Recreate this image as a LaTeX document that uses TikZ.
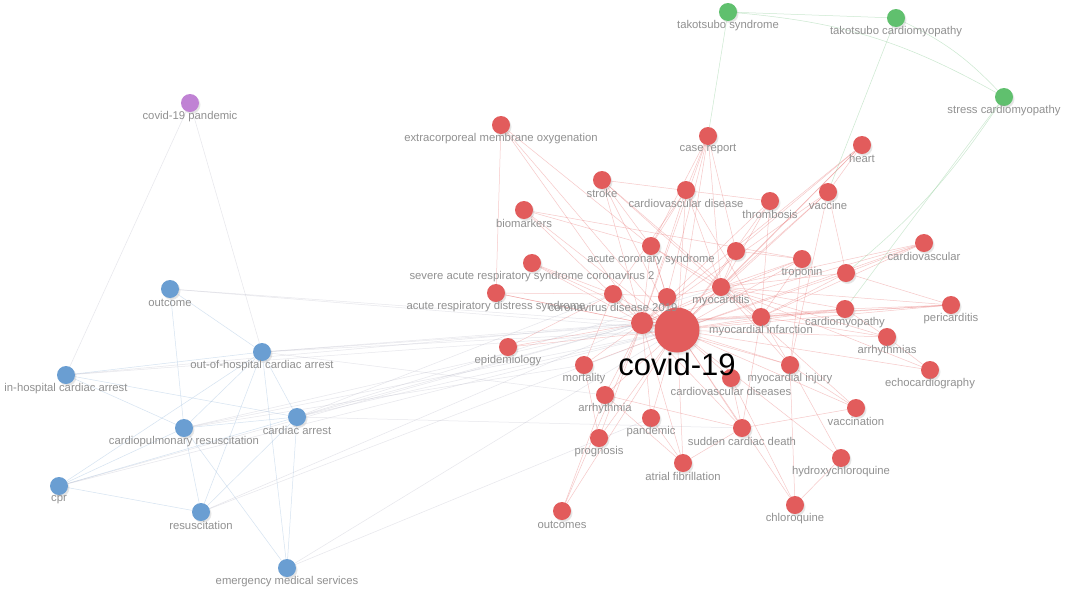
\documentclass[tikz,border=0pt]{standalone}
\usepackage{fontspec}
\setmainfont{Liberation Sans}
\usetikzlibrary{backgrounds,shadows}
\definecolor{nred}{RGB}{226,92,92}
\definecolor{nblue}{RGB}{106,158,210}
\definecolor{ngreen}{RGB}{96,192,110}
\definecolor{npurple}{RGB}{192,130,212}
\definecolor{lblgray}{RGB}{145,145,145}
\definecolor{ered}{RGB}{232,110,110}
\definecolor{eblue}{RGB}{150,185,220}
\definecolor{egreen}{RGB}{140,205,150}
\definecolor{emix}{RGB}{185,185,200}
\tikzset{
 kwnode/.style={circle,minimum size=18pt,inner sep=0pt,
   circular drop shadow={shadow xshift=1.2pt,shadow yshift=-1.6pt,opacity=0.22,shadow scale=1.05}},
 rn/.style={kwnode,fill=nred},
 bn/.style={kwnode,fill=nblue},
 gn/.style={kwnode,fill=ngreen},
 pn/.style={kwnode,fill=npurple},
 lbl/.style={text=lblgray,font=\fontsize{11.3}{13}\selectfont,inner sep=0pt},
 bigl/.style={text=black,font=\fontsize{31}{34}\selectfont,inner sep=0pt},
 redge/.style={draw=ered,line width=0.5pt,opacity=0.38},
 bedge/.style={draw=eblue,line width=0.5pt,opacity=0.4},
 gedge/.style={draw=egreen,line width=0.5pt,opacity=0.45},
 medge/.style={draw=emix,line width=0.5pt,opacity=0.35},
}
\newcommand{\kw}[4]{\node[#4] (#1) at (#2,#3) {};}
\newcommand{\kl}[2]{\path (#1) ++(0,13.5) node[lbl] (#1-l) {#2};}
\begin{document}
\begin{tikzpicture}[x=1pt,y=-1pt]
\useasboundingbox (0,0) rectangle (1067,590);
% nodes
\kw{tks}{728}{12}{gn}
\kw{tkc}{896}{18}{gn}
\kw{scm}{1004}{97}{gn}
\kw{cvp}{190}{103}{pn}
\kw{outc}{170}{289}{bn}
\kw{ohca}{262}{352}{bn}
\kw{ihca}{66}{375}{bn}
\kw{cpres}{184}{428}{bn}
\kw{carr}{297}{417}{bn}
\kw{cpr}{59}{486}{bn}
\kw{resus}{201}{512}{bn}
\kw{ems}{287}{568}{bn}
\kw{ecmo}{501}{125}{rn}
\kw{caser}{708}{136}{rn}
\kw{heart}{862}{145}{rn}
\kw{stroke}{602}{180}{rn}
\kw{cvd}{686}{190}{rn}
\kw{thromb}{770}{201}{rn}
\kw{vacc}{828}{192}{rn}
\kw{biom}{524}{210}{rn}
\kw{acs}{651}{246}{rn}
\kw{ua}{736}{251}{rn}
\kw{trop}{802}{259}{rn}
\kw{ub}{846}{273}{rn}
\kw{cardv}{924}{243}{rn}
\kw{sars}{532}{263}{rn}
\kw{ards}{496}{293}{rn}
\kw{cdnt}{613}{294}{rn}
\kw{uc}{667}{297}{rn}
\kw{myoc}{721}{287}{rn}
\kw{cmp}{845}{309}{rn}
\kw{peri}{951}{305}{rn}
\kw{mi}{761}{317}{rn}
\kw{ud}{642}{323}{rn,minimum size=22pt}
\kw{covid}{677}{330}{rn,minimum size=45pt}
\kw{arrs}{887}{337}{rn}
\kw{epi}{508}{347}{rn}
\kw{mort}{584}{365}{rn}
\kw{minj}{790}{365}{rn}
\kw{cvds}{731}{378}{rn}
\kw{echo}{930}{370}{rn}
\kw{arr}{605}{395}{rn}
\kw{vaccn}{856}{408}{rn}
\kw{pand}{651}{418}{rn}
\kw{scd}{742}{428}{rn}
\kw{prog}{599}{438}{rn}
\kw{hcq}{841}{458}{rn}
\kw{af}{683}{463}{rn}
\kw{outcs}{562}{511}{rn}
\kw{chq}{795}{505}{rn}
% edges
\begin{pgfonlayer}{background}
\fill[white] (0,0) rectangle (1067,590);
\foreach \b in {ecmo,caser,heart,stroke,cvd,thromb,vacc,biom,acs,ua,trop,ub,cardv,sars,ards,cdnt,uc,myoc,cmp,peri,mi,ud,arrs,epi,mort,minj,cvds,echo,arr,vaccn,pand,scd,prog,hcq,af,outcs,chq}
  \draw[redge] (covid.center) -- (\b);
\foreach \a/\b in {ud/ecmo,ud/caser,ud/stroke,ud/cvd,ud/thromb,ud/biom,ud/acs,ud/myoc,ud/mi,ud/mort,ud/arr,ud/pand,ud/prog,ud/outcs,ud/epi,ud/ards,ud/sars,ud/trop,ud/cmp,ud/peri,ud/minj,ud/af,ud/scd,ud/heart,ud/cardv,ud/vacc,
  myoc/vacc,myoc/heart,myoc/trop,myoc/cardv,myoc/peri,myoc/cmp,myoc/arrs,myoc/mi,myoc/minj,myoc/vaccn,myoc/ub,myoc/ua,myoc/caser,myoc/thromb,myoc/echo,myoc/cvd,myoc/stroke,myoc/acs,
  mi/acs,mi/trop,mi/cvd,mi/stroke,mi/thromb,mi/minj,mi/cmp,mi/ub,mi/cardv,mi/arrs,mi/scd,mi/peri,
  cdnt/ards,cdnt/sars,cdnt/uc,cdnt/mort,cdnt/epi,cdnt/cvd,uc/acs,uc/myoc,uc/caser,
  vacc/heart,heart/ua,vacc/ub,vacc/minj,scd/arr,scd/af,scd/vaccn,hcq/chq,hcq/minj,chq/minj,chq/cvds,prog/mort,outcs/arr,
  stroke/thromb,stroke/acs,cvd/acs,caser/acs,caser/ua,caser/cvd,ecmo/ards,ecmo/acs,biom/trop,biom/acs,ua/trop,ub/cardv,ub/peri,cmp/arrs,cmp/peri,arrs/echo,minj/trop,minj/vaccn,cvds/scd,pand/af,arr/af}
  \draw[redge] (\a) -- (\b);
\draw[gedge] (tks) -- (tkc);
\draw[gedge] (tkc) to[bend left=10] (scm);
\draw[gedge] (tks) to[bend left=12] (scm);
\draw[gedge] (tks) -- (caser);
\draw[gedge] (tkc) -- (vacc);
\draw[gedge] (scm) to[bend left=8] (ub);
\draw[gedge] (scm) -- (cmp);
\draw[medge] (cvp) -- (ihca);
\draw[medge] (cvp) -- (ohca);
\foreach \a/\b in {outc/cpres,outc/ohca,ihca/ohca,ihca/cpres,ihca/carr,cpr/cpres,cpr/carr,cpr/resus,cpr/ohca,resus/cpres,resus/carr,resus/ohca,ems/ohca,ems/carr,ems/cpres,carr/ohca,carr/cpres,ohca/cpres}
  \draw[bedge] (\a) -- (\b);
\foreach \a/\b in {outc/covid,ihca/covid,cpr/covid,resus/covid,ems/covid,carr/covid,ohca/covid,cpres/covid,carr/ud,ohca/ud,cpres/ud,carr/cdnt,ohca/mi,cpr/ud,resus/ud,ihca/ud,carr/myoc,ohca/arr,ems/pand,carr/scd,cpres/mort,outc/ud}
  \draw[medge] (\a) -- (\b);
\end{pgfonlayer}
% labels
\kl{tks}{takotsubo syndrome}
\kl{tkc}{takotsubo cardiomyopathy}
\kl{scm}{stress cardiomyopathy}
\kl{cvp}{covid-19 pandemic}
\kl{outc}{outcome}
\kl{ohca}{out-of-hospital cardiac arrest}
\kl{ihca}{in-hospital cardiac arrest}
\kl{cpres}{cardiopulmonary resuscitation}
\kl{carr}{cardiac arrest}
\kl{cpr}{cpr}
\kl{resus}{resuscitation}
\kl{ems}{emergency medical services}
\kl{ecmo}{extracorporeal membrane oxygenation}
\kl{caser}{case report}
\kl{heart}{heart}
\kl{stroke}{stroke}
\kl{cvd}{cardiovascular disease}
\kl{thromb}{thrombosis}
\kl{vacc}{vaccine}
\kl{biom}{biomarkers}
\kl{acs}{acute coronary syndrome}
\kl{trop}{troponin}
\kl{cardv}{cardiovascular}
\kl{sars}{severe acute respiratory syndrome coronavirus 2}
\kl{ards}{acute respiratory distress syndrome}
\kl{cdnt}{coronavirus disease 2019}
\kl{myoc}{myocarditis}
\kl{cmp}{cardiomyopathy}
\kl{peri}{pericarditis}
\kl{mi}{myocardial infarction}
\kl{arrs}{arrhythmias}
\kl{epi}{epidemiology}
\kl{mort}{mortality}
\kl{minj}{myocardial injury}
\kl{cvds}{cardiovascular diseases}
\kl{echo}{echocardiography}
\kl{arr}{arrhythmia}
\kl{vaccn}{vaccination}
\kl{pand}{pandemic}
\kl{scd}{sudden cardiac death}
\kl{prog}{prognosis}
\kl{hcq}{hydroxychloroquine}
\kl{af}{atrial fibrillation}
\kl{outcs}{outcomes}
\kl{chq}{chloroquine}
\path (covid) ++(0,34) node[bigl] (covid-l) {covid-19};
\end{tikzpicture}
\end{document}
